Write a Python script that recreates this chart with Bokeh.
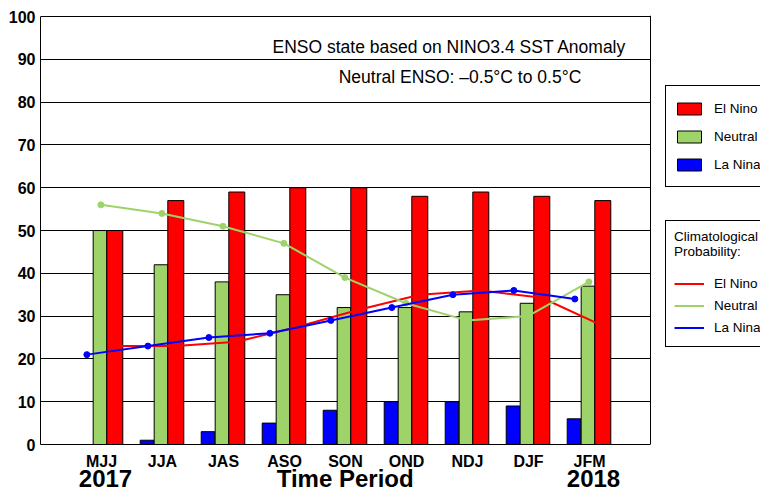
from bokeh.plotting import figure
from bokeh.models import (ColumnDataSource, FixedTicker, Legend, LegendItem,
                          Label, Range1d, LinearAxis, Span)
from bokeh.transform import dodge
from bokeh.embed import file_html
from bokeh.resources import INLINE

# ---- data ----
periods = ["MJJ", "JJA", "JAS", "ASO", "SON", "OND", "NDJ", "DJF", "JFM"]
el_nino = [50, 57, 59, 60, 60, 58, 59, 58, 57]
neutral = [50, 42, 38, 35, 32, 32, 31, 33, 37]
la_nina = [0, 1, 3, 5, 8, 10, 10, 9, 6]
clim_el_nino = [23, 23, 24, 27.5, 31.5, 35, 36, 34.3, 27.7]
clim_neutral = [56, 54, 51, 47, 39, 33, 29, 30, 38]
clim_la_nina = [21, 23, 25, 26, 29, 32, 35, 36, 34]
y_ticks = [0, 10, 20, 30, 40, 50, 60, 70, 80, 90, 100]
bottom_labels = ["2017", "Time Period", "2018"]
bottom_label_pos = [1.066, 4.995, 9.066]
title_lines = ["ENSO state based on NINO3.4 SST Anomaly",
               "Neutral ENSO: \u20130.5\u00b0C to 0.5\u00b0C"]
series_names = ["El Nino", "Neutral", "La Nina"]
clim_title = "Climatological\nProbability:"

FONT = "Liberation Sans"
RED = "#ff0000"
GREEN = "#9ed36a"
BLUE = "#0000ff"
W, H = 760, 494
X_MAX = 10                      # right edge of the chart box
X_VIEW = (W - 40) / 61.0        # frame also holds the legend strip
Y_VIEW = 100.25                 # keeps the top box line inside the frame

idx = list(range(1, len(periods) + 1))
src = ColumnDataSource(dict(idx=idx, el_nino=el_nino, neutral=neutral,
                            la_nina=la_nina, c_el=clim_el_nino,
                            c_ne=clim_neutral, c_la=clim_la_nina))

p = figure(width=W, height=H, x_range=Range1d(0, X_VIEW), y_range=Range1d(0, Y_VIEW),
           output_backend="svg", toolbar_location=None,
           min_border_left=40, min_border_right=0, min_border_top=15,
           min_border_bottom=48)
p.background_fill_color = "white"
p.border_fill_color = "white"
p.outline_line_color = None

# grid (limited to the chart box)
p.xgrid.visible = False
p.ygrid.ticker = FixedTicker(ticks=y_ticks)
p.ygrid.grid_line_color = "black"
p.ygrid.grid_line_width = 1
p.ygrid.grid_line_alpha = 1
p.ygrid.cross_bounds = (0, X_MAX)
p.add_layout(Span(location=X_MAX, dimension="height", line_color="black",
                  line_width=1))

# axes
p.yaxis.ticker = FixedTicker(ticks=y_ticks)
p.yaxis.bounds = (0, 100)
p.xaxis.ticker = FixedTicker(ticks=idx)
p.xaxis.major_label_overrides = {i: lab for i, lab in zip(idx, periods)}
p.xaxis.bounds = (0, X_MAX)

xaxis2 = LinearAxis(ticker=FixedTicker(ticks=bottom_label_pos),
                    major_label_overrides={v: t for v, t in zip(bottom_label_pos, bottom_labels)})
p.add_layout(xaxis2, "below")

for ax in (p.xaxis[0], p.yaxis[0], xaxis2):
    ax.axis_line_color = "black"
    ax.axis_line_width = 1
    ax.major_tick_line_color = None
    ax.minor_tick_line_color = None
    ax.major_tick_out = 0
    ax.major_tick_in = 0
    ax.major_label_text_font = FONT
    ax.major_label_text_font_style = "bold"
    ax.major_label_text_font_size = "16px"
    ax.major_label_text_color = "black"
xaxis2.axis_line_color = None
p.yaxis.major_label_standoff = 5
p.xaxis[0].major_label_standoff = 8
xaxis2.major_label_standoff = -8
xaxis2.major_label_text_font_size = "24px"

# bars
r_la = p.vbar(x=dodge("idx", -0.254, range=p.x_range), top="la_nina", width=0.223,
              source=src, fill_color=BLUE, line_color="black", line_width=1)
r_ne = p.vbar(x=dodge("idx", -0.025, range=p.x_range), top="neutral", width=0.223,
              source=src, fill_color=GREEN, line_color="black", line_width=1)
r_el = p.vbar(x=dodge("idx", 0.218, range=p.x_range), top="el_nino", width=0.262,
              source=src, fill_color=RED, line_color="black", line_width=1)

# climatological lines
l_el = p.line(x=dodge("idx", 0.218, range=p.x_range), y="c_el", source=src,
              line_color=RED, line_width=2)
l_ne = p.line(x=dodge("idx", -0.01, range=p.x_range), y="c_ne", source=src,
              line_color=GREEN, line_width=2)
p.scatter(x=dodge("idx", -0.01, range=p.x_range), y="c_ne", source=src,
          size=6, fill_color=GREEN, line_color=GREEN)
l_la = p.line(x=dodge("idx", -0.24, range=p.x_range), y="c_la", source=src,
              line_color=BLUE, line_width=2)
p.scatter(x=dodge("idx", -0.24, range=p.x_range), y="c_la", source=src,
          size=6, fill_color=BLUE, line_color=BLUE)

# header texts
p.add_layout(Label(x=6.705, y=93.0, text=title_lines[0], text_align="center",
                   text_baseline="middle", text_font=FONT, text_font_size="17.5px",
                   text_color="black"))
p.add_layout(Label(x=6.877, y=85.8, text=title_lines[1], text_align="center",
                   text_baseline="middle", text_font=FONT, text_font_size="17.5px",
                   text_color="black"))


# ---- legends ----
def style_legend(lg):
    lg.border_line_color = "black"
    lg.border_line_width = 1
    lg.border_line_alpha = 1
    lg.background_fill_color = "white"
    lg.background_fill_alpha = 1
    lg.margin = 0
    lg.padding = 8
    lg.label_text_font = FONT
    lg.label_text_font_size = "13.5px"
    lg.label_text_color = "black"
    lg.label_standoff = 10
    lg.glyph_width = 30
    lg.glyph_height = 15
    lg.spacing = 0


leg1 = Legend(items=[LegendItem(label=series_names[0], renderers=[r_el]),
                     LegendItem(label=series_names[1], renderers=[r_ne]),
                     LegendItem(label=series_names[2], renderers=[r_la])],
              location=(625, 257))
style_legend(leg1)
leg1.label_height = 28
p.add_layout(leg1)

leg2 = Legend(items=[LegendItem(label=series_names[0], renderers=[l_el]),
                     LegendItem(label=series_names[1], renderers=[l_ne]),
                     LegendItem(label=series_names[2], renderers=[l_la])],
              location=(625, 97), title=clim_title)
style_legend(leg2)
leg2.label_height = 22
leg2.title_text_font = FONT
leg2.title_text_font_size = "13.5px"
leg2.title_text_font_style = "normal"
leg2.title_text_color = "black"
leg2.title_standoff = 13
p.add_layout(leg2)

open("out.html", "w").write(file_html(p, INLINE))
